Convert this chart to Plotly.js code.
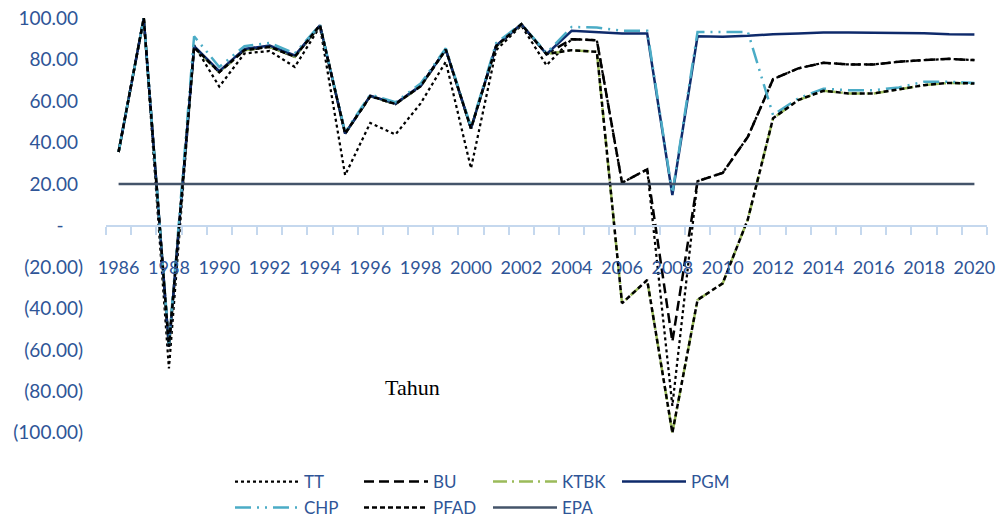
<!DOCTYPE html>
<html>
<head>
<meta charset="utf-8">
<script src="https://cdn.plot.ly/plotly-3.0.1.min.js"></script>
<style>html,body{margin:0;padding:0;background:#fff;}#chart{width:1000px;height:517px;}</style>
</head>
<body>
<div id="chart"></div>
<script>
const years = [1986,1987,1988,1989,1990,1991,1992,1993,1994,1995,1996,1997,1998,1999,2000,2001,2002,2003,2004,2005,2006,2007,2008,2009,2010,2011,2012,2013,2014,2015,2016,2017,2018,2019,2020];
const xTickYears = [1986,1988,1990,1992,1994,1996,1998,2000,2002,2004,2006,2008,2010,2012,2014,2016,2018,2020];
const yTickVals = [100,80,60,40,20,0,-20,-40,-60,-80,-100];
const yTickText = ['100.00\u00a0','80.00\u00a0','60.00\u00a0','40.00\u00a0','20.00\u00a0','-\u00a0\u00a0\u00a0\u00a0','(20.00)','(40.00)','(60.00)','(80.00)','(100.00)'];

const tt   = [35.5,100,-69,87,67,83,84.2,76.5,96,24.3,49.5,43.9,58.9,79,27.6,84.6,96.5,77.3, 89.9,89.4,20.6,27.1,-87,21.4,25.4,42.8,70.6,75.8,78.5,77.7,77.7,79,79.8,80.4,79.8];
const bu   = [35.5,100,-58.5,86,74,84.6,86.2,81.4,96.6,44.4,62.4,58.6,67.2,84.9,46.8,86.5,97.1,82.7, 89.9,89.4,20.6,27.1,-56,21.4,25.4,42.8,70.6,75.8,78.5,77.7,77.7,79,79.8,80.4,79.8];
const ktbk = [35.5,100,-58.5,86,74,84.6,86.2,81.4,96.6,44.4,62.4,58.6,67.2,84.9,46.8,86.5,97.1,82.7, 84.6,83.8,-37.5,-26.3,-100,-35.9,-27.9,3,51.7,60.5,65,63.7,63.7,65.6,67.7,68.8,68.5];
const pgm  = [35.5,100,-58.5,86.5,74.5,85.2,86.8,82,96.6,44.4,62.6,58.8,67.5,84.9,46.8,86.8,97.1,82.7, 93.9,93.4,92.6,92.6,14.7,91.3,91.1,91.5,92.3,92.6,93.1,93.1,93.1,93.1,92.8,92.3,92.1];
const chp  = [35.5,100,-57,91.3,76.5,86.5,88.1,83,96.8,45,63.2,59.5,68.5,85.5,47.5,88,97.3,83.2, 95.8,95.5,93.9,93.9,15.5,93.4,93.4,93.4,53.3,61.3,66,65.3,65.3,66.6,69.3,69.3,68.8];
const pfad = [35.5,100,-58.5,86,74,84.6,86.2,81.4,96.6,44.4,62.4,58.6,67.2,84.9,46.8,86.5,97.1,82.7, 84.6,83.8,-37.5,-26.3,-100,-35.9,-27.9,3,51.7,60.5,65,63.7,63.7,65.6,67.7,68.8,68.5];
const epa  = [20,20,20,20,20,20,20,20,20,20,20,20,20,20,20,20,20,20,20,20,20,20,20,20,20,20,20,20,20,20,20,20,20,20,20];

const axisBlue = '#2F5597';
function tr(name, y, color, dash, width, legend){
  return {type:'scatter', mode:'lines', name:name, x:years, y:y,
    line:{color:color, dash:dash, width:width}, legend:legend, hoverinfo:'skip'};
}
const data = [
  tr('TT', tt, '#000000', 'dot', 2.25, 'legend'),
  tr('BU', bu, '#000000', '10px,5px', 2.5, 'legend'),
  tr('KTBK', ktbk, '#9BBB59', '14px,5px,2px,5px', 2.5, 'legend'),
  tr('PGM', pgm, '#0E2A6B', 'solid', 2.5, 'legend'),
  tr('CHP', chp, '#4BACC6', '16px,6px,2px,6px,2px,6px', 2.5, 'legend2'),
  tr('PFAD', pfad, '#000000', '5px,3px', 2.5, 'legend2'),
  tr('EPA', epa, '#44546A', 'solid', 2.5, 'legend2')
];

const legendCommon = {orientation:'h', xref:'container', yref:'container', xanchor:'left', yanchor:'middle',
  entrywidth:50, entrywidthmode:'pixels', itemwidth:64, bgcolor:'rgba(0,0,0,0)',
  font:{family:'Lato, sans-serif', size:17, color:axisBlue}, traceorder:'normal'};

const layout = {
  width:1000, height:517,
  margin:{l:106, r:13, t:12, b:78},
  paper_bgcolor:'#ffffff', plot_bgcolor:'#ffffff',
  showlegend:true,
  xaxis:{
    type:'linear', range:[1985.5, 2020.5], anchor:'free', position:0.5,
    showgrid:false, zeroline:false,
    showline:true, linecolor:'#C5D8EE', linewidth:2,
    tickmode:'array', tickvals:xTickYears, ticktext:xTickYears.map(String),
    ticks:'', ticklabelstandoff:26,
    minor:{ticks:'outside', tick0:1985.5, dtick:1, ticklen:8, tickwidth:2, tickcolor:'#C5D8EE', showgrid:false},
    tickfont:{family:'Lato, sans-serif', size:18, color:axisBlue}
  },
  yaxis:{
    range:[-103, 103], showgrid:false, zeroline:false, showline:false,
    tickmode:'array', tickvals:yTickVals, ticktext:yTickText,
    ticks:'', ticklabelstandoff:22,
    tickfont:{family:'Lato, sans-serif', size:19, color:axisBlue}
  },
  legend:Object.assign({}, legendCommon, {x:0.230, y:1-482/517}),
  legend2:Object.assign({}, legendCommon, {x:0.230, y:1-508/517}),
  annotations:[{
    text:'Tahun', xref:'paper', yref:'paper', x:(412-106)/881, y:(439-402)/427,
    showarrow:false, font:{family:'Liberation Serif, Times New Roman, serif', size:22, color:'#000000'}
  }]
};

Plotly.newPlot('chart', data, layout, {staticPlot:true, displayModeBar:false});
</script>
</body>
</html>
